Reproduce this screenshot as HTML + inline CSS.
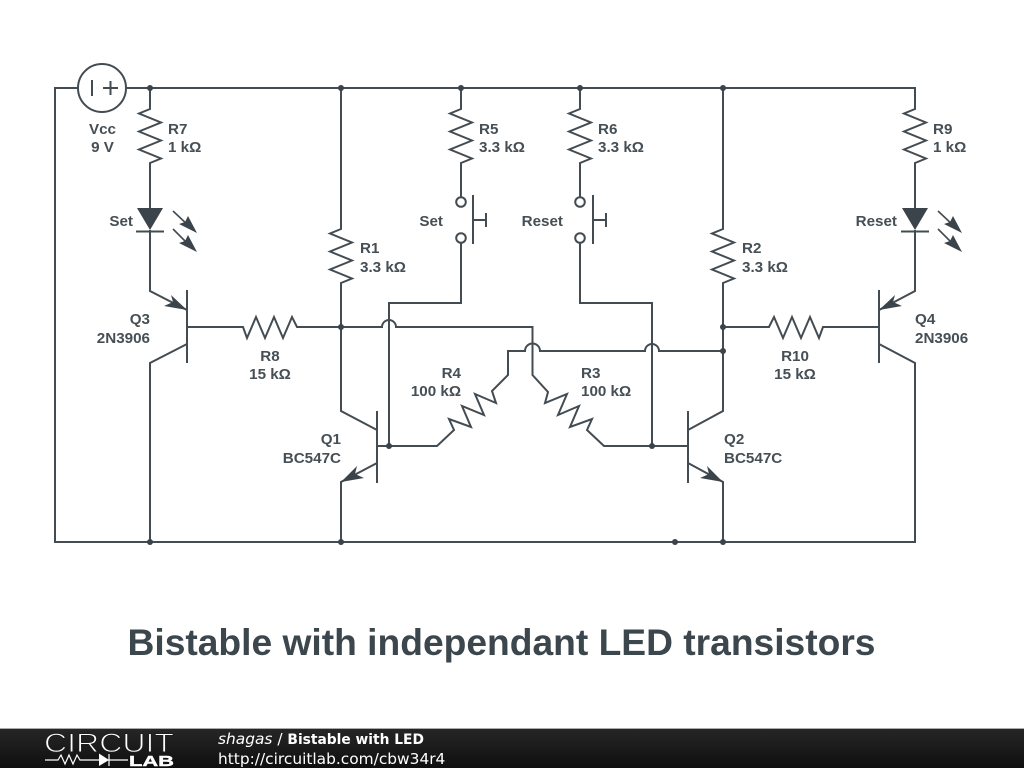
<!DOCTYPE html>
<html><head><meta charset="utf-8"><style>
html,body{margin:0;padding:0;background:#fff;width:1024px;height:768px;overflow:hidden}
svg{display:block}
text{font-family:"Liberation Sans",sans-serif}
.l{font-size:15.200px;font-weight:bold;fill:#464f55}
.m{text-anchor:middle}.e{text-anchor:end}
.w{fill:none;stroke:#434c52;stroke-width:2;stroke-linejoin:miter}
.d{fill:#3b444b}
.f{font-family:"DejaVu Sans",sans-serif;font-size:15.400px;fill:#fff}
</style></head><body>
<svg width="1024" height="768" viewBox="0 0 1024 768" xmlns="http://www.w3.org/2000/svg">
<defs><linearGradient id="g" x1="0" y1="0" x2="0" y2="1"><stop offset="0" stop-color="#262626"/><stop offset="1" stop-color="#0f0f0f"/></linearGradient></defs>
<g class="w">
<path d="M78 88H55V542H915V363L879 344M126 88H915V109"/>
<circle cx="102" cy="88" r="24"/>
<path d="M92 80V96M103 88H118M110.500 81V95"/>
<!-- R7 and left branch -->
<path d="M150 88V109L139 113.5L161 122.5L139 131.5L161 140.5L139 149.5L161 158.5L150 163V208M150 230V291L187 310M187 290V363M150 542V363L187 344M187 327H243L247 338L256 317L265 338L274 317L283 338L292 317L297 327H382A7 7 0 0 1 396 327H532.500V375L548 392L545 403L567 394L558 415L579 406L570 427L592 419L587 430L604 446H688"/>
<path d="M136 231.500H164"/>
<!-- R1 -->
<path d="M341 88V229L330 233.500L352 242.500L330 251.500L352 260.500L330 269.500L352 278.500L341 283V411L377 430M377 411V483M377 463L341 482V542"/>
<!-- R2 -->
<path d="M723 88V229L712 233.500L734 242.500L712 251.500L734 260.500L712 269.500L734 278.500L723 283V411L688 430M688 411V483M688 463L723 482V542"/>
<!-- R5, R6 -->
<path d="M461 88V109L450 113.500L472 122.500L450 131.500L472 140.500L450 149.500L472 158.500L461 163V197M461 243V303H389V446M377 446H437L454 430L449 419L471 427L462 406L484 415L475 394L496 403L492 391L508 375V351H525A7.500 7.500 0 0 1 540 351H645A7 7 0 0 1 659 351H723"/>
<path d="M580 88V109L569 113.500L591 122.500L569 131.500L591 140.500L569 149.500L591 158.500L580 163V197M580 243V303H652V446"/>
<circle cx="461" cy="202" r="4.800" fill="#fff"/><circle cx="461" cy="238" r="4.800" fill="#fff"/>
<circle cx="580" cy="202" r="4.800" fill="#fff"/><circle cx="580" cy="238" r="4.800" fill="#fff"/>
<path d="M473 195V244M473 220H486M486 213V227M593 195V244M593 220H606M606 213V227"/>
<!-- R9 and right -->
<path d="M915 88V109L904 113.500L926 122.500L904 131.500L926 140.500L904 149.500L926 158.500L915 163V208M915 230V291L879 310M879 290V363M879 327H823L819 338L810 317L801 338L792 317L783 338L774 317L769 327H723"/>
<path d="M901 231.500H929"/>
<path d="M173 211L190 227M173 229L190 246M938 211L955 227M938 229L955 246" stroke-width="1.600"/>
</g>
<g class="d">
<path d="M137 208H163L150 230ZM902 208H928L915 230Z"/>
<path d="M197 233L179 224L185 222L188 216ZM197 252L179 243L185 241L188 235ZM962 233L944 224L950 222L953 216ZM962 252L944 243L950 241L953 235Z"/>
<path d="M187 310L171 295L173 302L164 306ZM879 310L895 295L893 302L902 306ZM341 482L357 466L355 474L364 478ZM723 482L707 466L709 474L700 478Z"/>
<circle cx="150" cy="88" r="3"/><circle cx="341" cy="88" r="3"/><circle cx="461" cy="88" r="3"/><circle cx="580" cy="88" r="3"/><circle cx="723" cy="88" r="3"/>
<circle cx="341" cy="327" r="3"/><circle cx="723" cy="327" r="3"/><circle cx="723" cy="351" r="3"/>
<circle cx="389" cy="446" r="3"/><circle cx="652" cy="446" r="3"/>
<circle cx="150" cy="542" r="3"/><circle cx="341" cy="542" r="3"/><circle cx="675" cy="542" r="3"/><circle cx="723" cy="542" r="3"/>
</g>
<g class="l">
<text class="m" x="102.500" y="134">Vcc</text><text class="m" x="102.500" y="152">9 V</text>
<text x="168" y="134">R7</text><text x="168" y="152">1 kΩ</text>
<text x="479" y="134">R5</text><text x="479" y="152">3.3 kΩ</text>
<text x="598" y="134">R6</text><text x="598" y="152">3.3 kΩ</text>
<text x="933" y="134">R9</text><text x="933" y="152">1 kΩ</text>
<text class="e" x="133" y="226">Set</text>
<text class="e" x="443" y="226">Set</text>
<text class="e" x="563" y="226">Reset</text>
<text class="e" x="897" y="226">Reset</text>
<text x="360" y="253">R1</text><text x="360" y="272">3.3 kΩ</text>
<text x="742" y="253">R2</text><text x="742" y="272">3.3 kΩ</text>
<text class="e" x="150" y="324">Q3</text><text class="e" x="150" y="343">2N3906</text>
<text x="915" y="324">Q4</text><text x="915" y="343">2N3906</text>
<text class="m" x="270" y="361">R8</text><text class="m" x="270" y="379">15 kΩ</text>
<text class="m" x="795" y="361">R10</text><text class="m" x="795" y="379">15 kΩ</text>
<text class="e" x="461" y="378">R4</text><text class="e" x="461" y="396">100 kΩ</text>
<text x="581" y="378">R3</text><text x="581" y="396">100 kΩ</text>
<text class="e" x="341" y="444">Q1</text><text class="e" x="341" y="463">BC547C</text>
<text x="724" y="444">Q2</text><text x="724" y="463">BC547C</text>
</g>
<text x="501.500" y="655" text-anchor="middle" font-size="37.200" font-weight="bold" fill="#3c464d">Bistable with independant LED transistors</text>
<rect x="0" y="728" width="1024" height="1" fill="#aaa"/>
<rect x="0" y="729" width="1024" height="39" fill="url(#g)"/>
<text x="44" y="752" font-size="26.500" textLength="130" lengthAdjust="spacingAndGlyphs" fill="#fff" stroke="#1e1e1e" stroke-width="1">CIRCUIT</text>
<path d="M45 760H58L61 755L65 764L69 755L73 764L77 755L80 760H100M108 760H128M109 754V766" fill="none" stroke="#fff" stroke-width="1.200"/>
<path d="M99 753.500L109 760L99 766Z" fill="#fff"/>
<text x="129" y="766" font-size="15" font-weight="bold" textLength="45" lengthAdjust="spacingAndGlyphs" fill="#fff" stroke="#fff" stroke-width=".4">LAB</text>
<text class="f" x="218" y="744"><tspan font-style="italic">shagas</tspan> / <tspan font-weight="bold" font-size="13.800">Bistable with LED</tspan></text>
<text class="f" x="218" y="764">http://circuitlab.com/cbw34r4</text>
</svg>
</body></html>
